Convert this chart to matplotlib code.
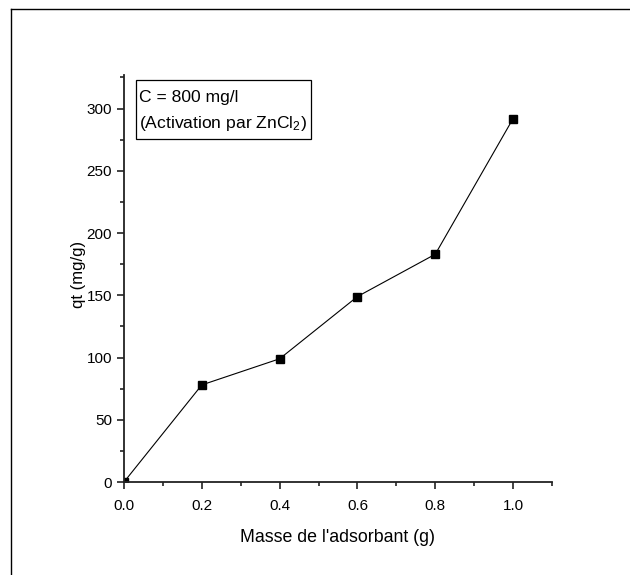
import numpy as np
import matplotlib.pyplot as plt
from matplotlib.lines import Line2D
from matplotlib.patches import Rectangle
from matplotlib.ticker import MultipleLocator

plt.rcParams['font.family'] = ['Liberation Sans', 'DejaVu Sans']
plt.rcParams['mathtext.fontset'] = 'custom'
plt.rcParams['mathtext.rm'] = 'Liberation Sans'
plt.rcParams['mathtext.it'] = 'Liberation Sans:italic'

# données
masse = [0.0, 0.2, 0.4, 0.6, 0.8, 1.0]
qt = [0, 78, 99, 149, 183, 292]

W, H = 630, 575
fig = plt.figure(figsize=(6.3, 5.75), dpi=100)
ax = fig.add_axes([124/W, 1 - 482/H, (552 - 124)/W, (482 - 75)/H])

ax.plot(masse, qt, '-', color='black', lw=0.8,
        marker='s', markersize=6, markerfacecolor='black', markeredgecolor='black')

ax.set_xlim(0, 1.1)
ax.set_ylim(0, 327)
ax.xaxis.set_major_locator(MultipleLocator(0.2))
ax.xaxis.set_minor_locator(MultipleLocator(0.1))
ax.yaxis.set_major_locator(MultipleLocator(50))
ax.yaxis.set_minor_locator(MultipleLocator(25))
ax.xaxis.set_major_formatter(plt.FuncFormatter(lambda v, p: f"{v:.1f}"))

for s in ['top', 'right']:
    ax.spines[s].set_visible(False)
for s in ['left', 'bottom']:
    ax.spines[s].set_linewidth(1.3)
    ax.spines[s].set_color('#222222')

ax.tick_params(which='major', direction='out', length=5, width=1.2, labelsize=11, color='#222222')
ax.tick_params(axis='x', which='major', pad=7)
ax.tick_params(which='minor', direction='out', length=3, width=1.2, color='#222222')

ax.set_xlabel("Masse de l'adsorbant (g)", fontsize=12.8, labelpad=12)
ax.set_ylabel("qt (mg/g)", fontsize=12)
ax.yaxis.set_label_coords(-0.089, 0.51)

# légende (encadré)
fig.add_artist(Rectangle((136/W, 1 - 139/H), (311 - 136)/W, (139 - 80)/H,
                         transform=fig.transFigure, facecolor='white',
                         edgecolor='black', lw=0.9))
fig.text(139/W, 1 - 102/H, "C = 800 mg/l", fontsize=12.6, va='baseline', ha='left')
fig.text(139/W, 1 - 128/H, "(Activation par ZnCl$_2$)", fontsize=12.6, va='baseline', ha='left')

# cadre extérieur
fig.add_artist(Line2D([11/W, 1.0], [1 - 9/H, 1 - 9/H], transform=fig.transFigure,
                      color='black', lw=1.0))
fig.add_artist(Line2D([11/W, 11/W], [1 - 9/H, 0.0], transform=fig.transFigure,
                      color='black', lw=1.0))

plt.savefig("out.png", dpi=100)
